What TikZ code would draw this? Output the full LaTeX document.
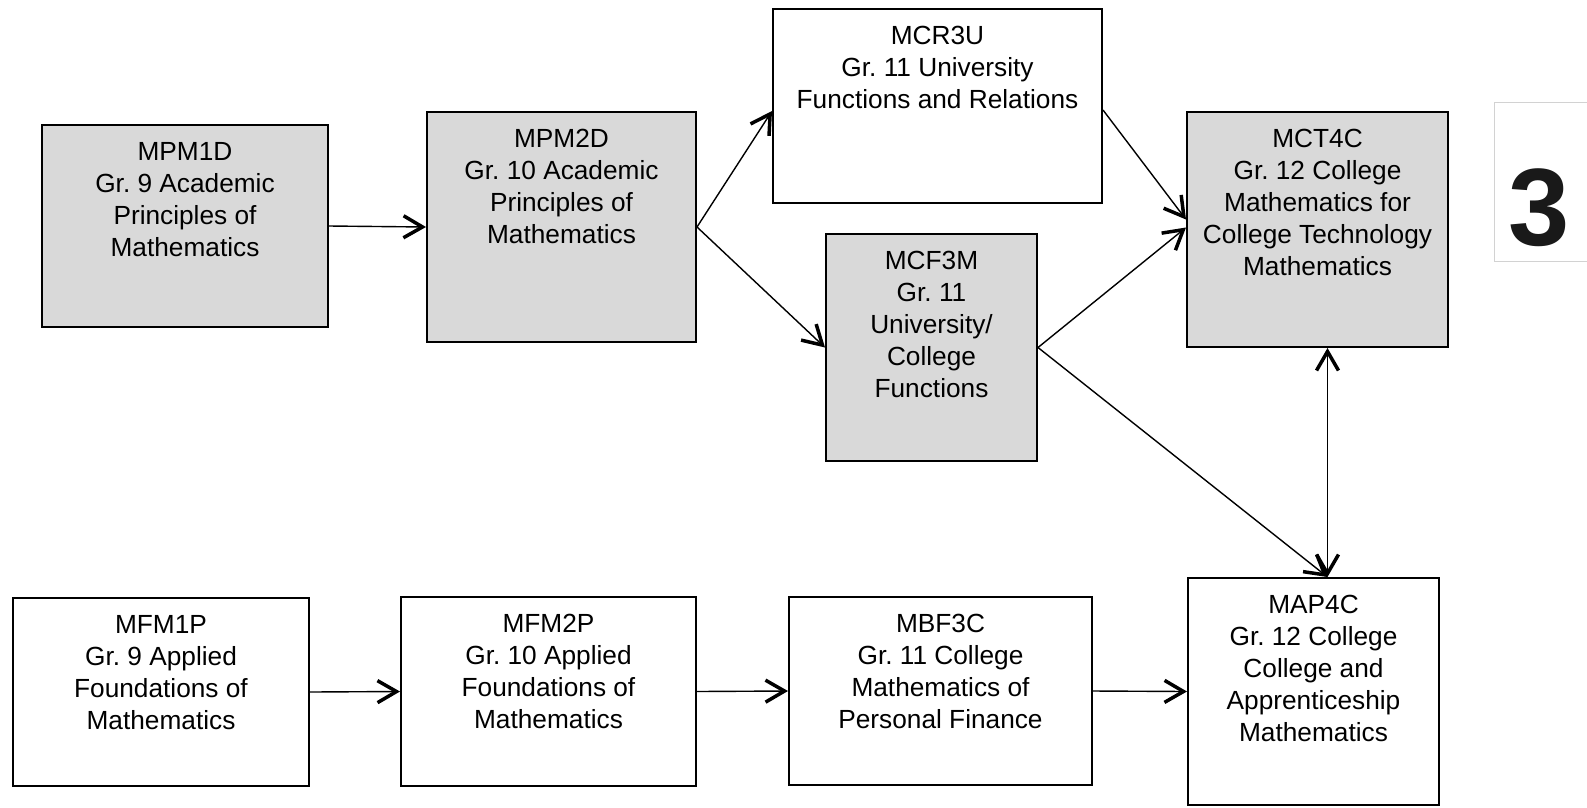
\documentclass[tikz,border=0pt]{standalone}
\usepackage{fontspec}
\setmainfont{Liberation Sans}
\usetikzlibrary{arrows.meta}
\definecolor{boxgray}{HTML}{D9D9D9}
\frenchspacing
\begin{document}
\begin{tikzpicture}[x=1pt,y=-1pt,
  course/.style={draw=black, line width=2pt, inner sep=0pt, rectangle},
  shaded/.style={course, fill=boxgray},
  plain/.style={course, fill=white},
  txt/.style={anchor=north, align=center, inner sep=0pt, yshift=-18pt,
    font=\fontsize{26.25}{32}\selectfont},
  link/.style={line width=1.4pt,
    -{Straight Barb[length=19pt,width=22pt,line width=3.5pt]}},
  both/.style={line width=1.4pt,
    {Straight Barb[length=19pt,width=22pt,line width=3.5pt]}-{Straight Barb[length=19pt,width=22pt,line width=3.5pt]}}
]
\useasboundingbox (0,0) rectangle (1587,807);

% academic stream
\node[shaded, minimum width=286pt, minimum height=202pt,
  label={[txt]north:{MPM1D\\Gr. 9 Academic\\Principles of\\Mathematics}}]
  (mpm1) at (185,226) {};
\node[shaded, minimum width=269pt, minimum height=230pt,
  label={[txt]north:{MPM2D\\Gr. 10 Academic\\Principles of\\Mathematics}}]
  (mpm2) at (561.5,227) {};
\node[plain, minimum width=329pt, minimum height=194pt,
  label={[txt]north:{MCR3U\\Gr. 11 University\\Functions and Relations}}]
  (mcr) at (937.5,106) {};
\node[shaded, minimum width=211pt, minimum height=227pt,
  label={[txt]north:{MCF3M\\Gr. 11\\University/\\College\\Functions}}]
  (mcf) at (931.5,347.5) {};
\node[shaded, minimum width=261pt, minimum height=235pt,
  label={[txt]north:{MCT4C\\Gr. 12 College\\Mathematics for\\College Technology\\Mathematics}}]
  (mct) at (1317.5,229.5) {};

% applied stream
\node[plain, minimum width=296pt, minimum height=188pt,
  label={[txt]north:{MFM1P\\Gr. 9 Applied\\Foundations of\\Mathematics}}]
  (mfm1) at (161,692) {};
\node[plain, minimum width=295pt, minimum height=189pt,
  label={[txt]north:{MFM2P\\Gr. 10 Applied\\Foundations of\\Mathematics}}]
  (mfm2) at (548.5,691.5) {};
\node[plain, minimum width=303pt, minimum height=188pt,
  label={[txt]north:{MBF3C\\Gr. 11 College\\Mathematics of\\Personal Finance}}]
  (mbf) at (940.5,691) {};
\node[plain, minimum width=251pt, minimum height=227pt,
  label={[txt]north:{MAP4C\\Gr. 12 College\\College and\\Apprenticeship\\Mathematics}}]
  (map) at (1313.5,691.5) {};

% pathways
\draw[link] (mpm1.east) -- (mpm2.west);
\draw[link] (mpm2.east) -- ([yshift=-5pt]mcr.west);
\draw[link] (mpm2.east) -- (mcf.west);
\draw[link] ([yshift=-4pt]mcr.east) -- ([yshift=10pt]mct.west);
\draw[link] (mcf.east) -- ([yshift=2pt]mct.west);
\draw[link] (mcf.east) -- ([xshift=14pt]map.north);
\draw[both] ([xshift=10pt]mct.south) -- ([xshift=14pt]map.north);
\draw[link] (mfm1.east) -- (mfm2.west);
\draw[link] (mfm2.east) -- (mbf.west);
\draw[link] (mbf.east) -- (map.west);

% page-number tile
\draw[gray!35, line width=1pt, fill=white] (1494,102) rectangle (1600,261);
\node[text=black!90, inner sep=0pt, font=\fontsize{110}{110}\selectfont\bfseries]
  (three) at (1539,208) {3};
\end{tikzpicture}
\end{document}
